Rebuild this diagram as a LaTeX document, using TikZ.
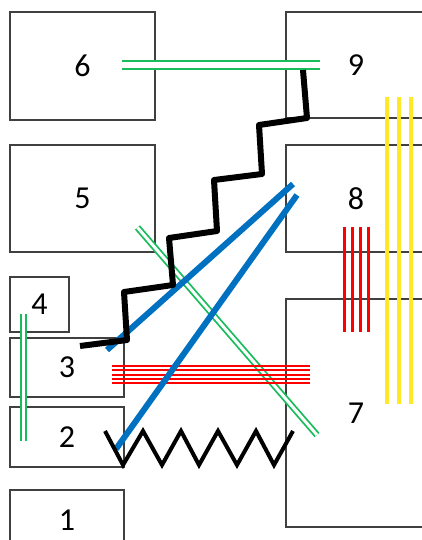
\documentclass[tikz,border=0pt]{standalone}
\usepackage{fontspec}
\setmainfont{Carlito}

\definecolor{roomgray}{RGB}{64,64,64}
\definecolor{wireblue}{RGB}{0,112,192}
\definecolor{wiregreen}{RGB}{24,188,92}
\definecolor{wirered}{RGB}{255,0,0}
\definecolor{wireyellow}{RGB}{255,232,40}

\tikzset{
  room/.style={rectangle,draw=roomgray,line width=1.2pt,inner sep=0pt,font=\fontsize{32}{32}\selectfont},
  greenpair/.style={draw=wiregreen,double=white,line width=1.8pt},
  redwire/.style={draw=wirered,line width=2pt},
  redbar/.style={draw=wirered,line width=3pt},
  yellowwire/.style={draw=wireyellow,line width=3.5pt},
  bluewire/.style={draw=wireblue,line width=6pt},
  stairs/.style={draw=black,line width=6pt,line join=round},
  spring/.style={draw=black,line width=4pt,line join=miter}
}

\begin{document}
\begin{tikzpicture}[x=1pt,y=-1pt]
    \useasboundingbox (0,0) rectangle (422,540);
    \clip (0,0) rectangle (422,540);
    % left column
    \node[room,minimum width=145pt,minimum height=108pt] (r6) at (82.5,66) {6};
    \node[room,minimum width=145pt,minimum height=107pt] (r5) at (82.5,198.5) {5};
    \node[room,minimum width=59pt,minimum height=55pt]   (r4) at (39.5,304.5) {4};
    \node[room,minimum width=114pt,minimum height=59pt]  (r3) at (67,367.5) {3};
    \node[room,minimum width=114pt,minimum height=60pt]  (r2) at (67,437) {2};
    \node[room,minimum width=114pt,minimum height=60pt]  (r1) at (67,520) {1};
    % right column
    \node[room,minimum width=140pt,minimum height=106pt] (r9) at (356,65) {9};
    \node[room,minimum width=140pt,minimum height=107pt] (r8) at (356,198.5) {8};
    \node[room,minimum width=140pt,minimum height=228pt] (r7) at (356,413) {7};

    % green pairs
    \draw[greenpair,double distance=6pt] (122,65) -- (320,65);
    \draw[greenpair,double distance=3pt] (23.5,314) -- (23.5,441);
    \draw[greenpair,double distance=3pt] (137.5,227.5) -- (317,435);

    % red wires
    \draw[redwire] (112,366) -- (310,366);
    \draw[redwire] (112,370.25) -- (310,370.25);
    \draw[redwire] (112,374.5) -- (310,374.5);
    \draw[redwire] (112,378.75) -- (310,378.75);
    \draw[redwire] (112,383) -- (310,383);
    \draw[redbar] (344,227) -- (344,332);
    \draw[redbar] (352,227) -- (352,332);
    \draw[redbar] (360,227) -- (360,332);
    \draw[redbar] (368,227) -- (368,332);

    % yellow wires
    \draw[yellowwire] (387,97) -- (387,404);
    \draw[yellowwire] (399,97) -- (399,404);
    \draw[yellowwire] (411,97) -- (411,404);

    % blue wires
    \draw[bluewire] (107,350) -- (293,184);
    \draw[bluewire] (116,449) -- (297,195);

    % black stairs and spring
    \draw[stairs] (80,346) -- (127,340) -- (124,292) -- (173,285) -- (169,238)
      -- (217,231) -- (214,180) -- (262,174) -- (259,125) -- (307,118) -- (303,70);
    \draw[spring] (105,431) -- (123,465) -- (143,431) -- (162,465) -- (181,431)
      -- (199,465) -- (218,431) -- (237,465) -- (256,431) -- (274,465) -- (293,431);
  \end{tikzpicture}
\end{document}
